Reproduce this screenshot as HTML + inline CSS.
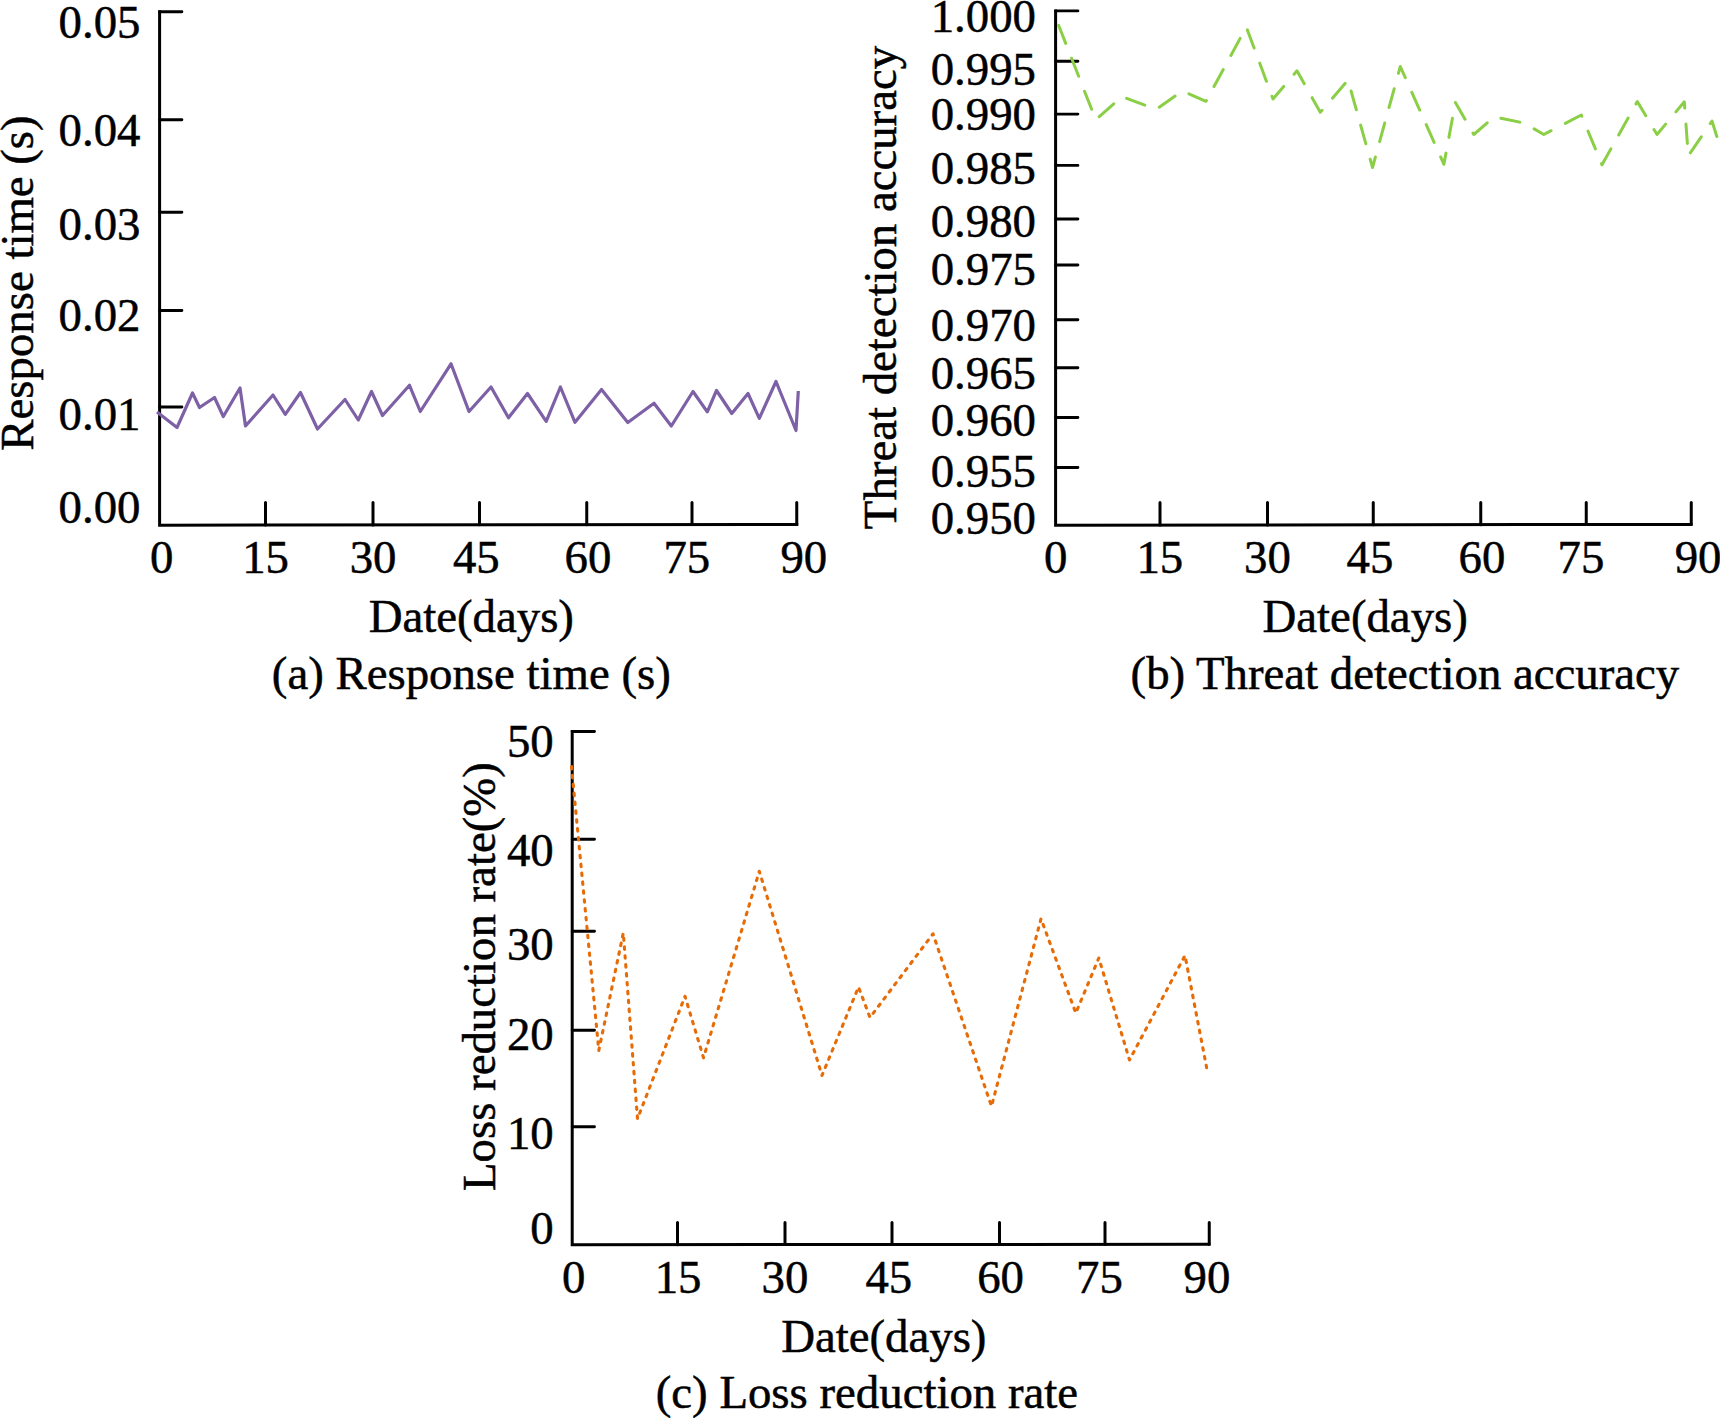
<!DOCTYPE html>
<html lang="en"><head><meta charset="utf-8"><title>Figure</title>
<style>
html,body{margin:0;padding:0;background:#fff;}
body{width:1720px;height:1418px;overflow:hidden;}
svg{display:block;}
text{font-family:"Liberation Serif","Times New Roman",serif;font-size:46.8px;fill:#000;stroke:#000;stroke-width:0.5px;}
.ax{stroke:#000;fill:none;stroke-linecap:butt;stroke-linejoin:miter;}
.tk{stroke:#000;fill:none;stroke-linecap:round;}
</style></head><body>
<svg width="1720" height="1418" viewBox="0 0 1720 1418">
<rect width="1720" height="1418" fill="#fff"/>
<path class="ax" stroke-width="3.0" d="M159.6,10.35 L159.6,525.2 L798.3,524.4"/>
<path class="tk" stroke-width="2.9" d="M159.6,11.8 H181.9 M159.6,119.7 H181.9 M159.6,212.2 H181.9 M159.6,310.5 H181.9 M159.6,407 H181.9"/>
<path class="tk" stroke-width="3.0" d="M265.5,525.07 V502.4 M373,524.93 V502.4 M479.5,524.80 V502.4 M586.75,524.66 V502.4 M692,524.53 V502.4 M796.75,524.40 V502.4"/>
<text x="140.5" y="37.5" text-anchor="end">0.05</text>
<text x="140.5" y="145.9" text-anchor="end">0.04</text>
<text x="140.5" y="239.8" text-anchor="end">0.03</text>
<text x="140.5" y="331" text-anchor="end">0.02</text>
<text x="140.5" y="429.6" text-anchor="end">0.01</text>
<text x="140.5" y="522.8" text-anchor="end">0.00</text>
<text x="161.6" y="572.7" text-anchor="middle">0</text>
<text x="265.6" y="572.7" text-anchor="middle">15</text>
<text x="373.1" y="572.7" text-anchor="middle">30</text>
<text x="476.3" y="572.7" text-anchor="middle">45</text>
<text x="587.9" y="572.7" text-anchor="middle">60</text>
<text x="686.8" y="572.7" text-anchor="middle">75</text>
<text x="803.8" y="572.7" text-anchor="middle">90</text>
<polyline fill="none" stroke="#7D60A5" stroke-width="3.2" stroke-linejoin="round" points="157.0,412.0 177.0,427.5 192.5,393.0 199.5,407.5 214.5,397.5 223.3,416.5 240.0,388.0 245.5,426.0 273.0,395.0 285.3,414.3 300.5,392.5 317.5,429.0 345.0,399.5 358.3,420.0 371.5,391.5 382.5,415.5 409.5,385.3 420.3,411.5 451.0,363.8 469.0,411.5 491.0,387.0 508.5,417.8 527.5,393.5 546.2,421.3 560.4,387.0 575.0,422.3 601.5,389.5 627.8,422.5 654.0,403.3 671.3,426.0 693.0,391.5 707.3,411.8 716.5,390.5 731.8,413.5 748.0,393.5 759.3,418.3 776.0,381.5 796.0,430.5 798.3,391.0"/>
<text transform="translate(33,283) rotate(-90)" text-anchor="middle">Response time (s)</text>
<text x="471.3" y="632" text-anchor="middle">Date(days)</text>
<text x="471.3" y="688.5" text-anchor="middle">(a) Response time (s)</text>
<path class="ax" stroke-width="3.0" d="M1055.6,9.45 L1055.6,525.2 L1692.5,524.4"/>
<path class="tk" stroke-width="2.9" d="M1055.6,10.9 H1077.9 M1055.6,61.3 H1077.9 M1055.6,114.1 H1077.9 M1055.6,165.4 H1077.9 M1055.6,219 H1077.9 M1055.6,265 H1077.9 M1055.6,319.8 H1077.9 M1055.6,367.75 H1077.9 M1055.6,417.5 H1077.9 M1055.6,467.5 H1077.9"/>
<path class="tk" stroke-width="3.0" d="M1160,525.07 V502.4 M1267.5,524.93 V502.4 M1373.25,524.80 V502.4 M1480.75,524.67 V502.4 M1586.25,524.53 V502.4 M1691.25,524.40 V502.4"/>
<text x="1036" y="31.7" text-anchor="end">1.000</text>
<text x="1036" y="85.3" text-anchor="end">0.995</text>
<text x="1036" y="130" text-anchor="end">0.990</text>
<text x="1036" y="184.2" text-anchor="end">0.985</text>
<text x="1036" y="236.7" text-anchor="end">0.980</text>
<text x="1036" y="284.7" text-anchor="end">0.975</text>
<text x="1036" y="341" text-anchor="end">0.970</text>
<text x="1036" y="389.2" text-anchor="end">0.965</text>
<text x="1036" y="436" text-anchor="end">0.960</text>
<text x="1036" y="486.7" text-anchor="end">0.955</text>
<text x="1036" y="534.2" text-anchor="end">0.950</text>
<text x="1055.8" y="572.7" text-anchor="middle">0</text>
<text x="1159.8" y="572.7" text-anchor="middle">15</text>
<text x="1267.5" y="572.7" text-anchor="middle">30</text>
<text x="1370" y="572.7" text-anchor="middle">45</text>
<text x="1481.9" y="572.7" text-anchor="middle">60</text>
<text x="1581" y="572.7" text-anchor="middle">75</text>
<text x="1698.1" y="572.7" text-anchor="middle">90</text>
<polyline fill="none" stroke="#8BCF46" stroke-width="3" stroke-linecap="round" stroke-linejoin="round" stroke-dasharray="19.4 16" points="1058.6,25.3 1095.8,119.8 1122.0,96.5 1156.0,109.5 1182.3,91.0 1206.0,101.3 1246.3,27.0 1273.0,99.0 1297.0,70.8 1320.3,112.3 1348.0,80.0 1372.5,167.5 1400.3,66.5 1443.9,164.3 1455.4,102.5 1473.8,134.5 1494.0,116.8 1524.0,123.0 1543.8,134.5 1581.3,115.0 1602.0,164.8 1637.3,101.5 1657.0,134.5 1684.3,101.8 1688.3,155.8 1712.0,121.0 1726.0,166.0"/>
<text transform="translate(895.8,287.5) rotate(-90)" text-anchor="middle">Threat detection accuracy</text>
<text x="1365.2" y="632" text-anchor="middle">Date(days)</text>
<text x="1404.9" y="688.5" text-anchor="middle">(b) Threat detection accuracy</text>
<path class="ax" stroke-width="3.0" d="M572.2,730.05 L572.2,1244.8 L1210.5,1244.2"/>
<path class="tk" stroke-width="2.9" d="M572.2,731.5 H594.5 M572.2,839.25 H594.5 M572.2,931.25 H594.5 M572.2,1030.3 H594.5 M572.2,1126.8 H594.5"/>
<path class="tk" stroke-width="3.0" d="M677.5,1244.70 V1222.5 M785,1244.60 V1222.5 M892,1244.50 V1222.5 M999.5,1244.40 V1222.5 M1105,1244.30 V1222.5 M1209.25,1244.20 V1222.5"/>
<text x="553.7" y="757" text-anchor="end">50</text>
<text x="553.7" y="865.7" text-anchor="end">40</text>
<text x="553.7" y="959.5" text-anchor="end">30</text>
<text x="553.7" y="1050" text-anchor="end">20</text>
<text x="553.7" y="1149.2" text-anchor="end">10</text>
<text x="553.7" y="1243.5" text-anchor="end">0</text>
<text x="573.8" y="1292.7" text-anchor="middle">0</text>
<text x="678.1" y="1292.7" text-anchor="middle">15</text>
<text x="785" y="1292.7" text-anchor="middle">30</text>
<text x="888.8" y="1292.7" text-anchor="middle">45</text>
<text x="1000.6" y="1292.7" text-anchor="middle">60</text>
<text x="1099.4" y="1292.7" text-anchor="middle">75</text>
<text x="1206.9" y="1292.7" text-anchor="middle">90</text>
<polyline fill="none" stroke="#E66C08" stroke-width="3.1" stroke-linecap="round" stroke-linejoin="round" stroke-dasharray="2.5 6.42" points="571.5,766.5 598.8,1050.5 623.3,933.0 637.5,1118.8 685.0,996.3 703.5,1057.8 759.3,871.3 822.0,1075.5 858.5,987.0 870.0,1017.5 933.0,933.8 991.5,1106.3 1041.0,918.8 1075.8,1013.0 1098.8,958.0 1129.5,1060.0 1185.0,955.5 1207.0,1069.5"/>
<text transform="translate(494.5,976.6) rotate(-90)" text-anchor="middle">Loss reduction rate(%)</text>
<text x="883.8" y="1351.9" text-anchor="middle">Date(days)</text>
<text x="866.9" y="1408.4" text-anchor="middle">(c) Loss reduction rate</text>
</svg></body></html>
